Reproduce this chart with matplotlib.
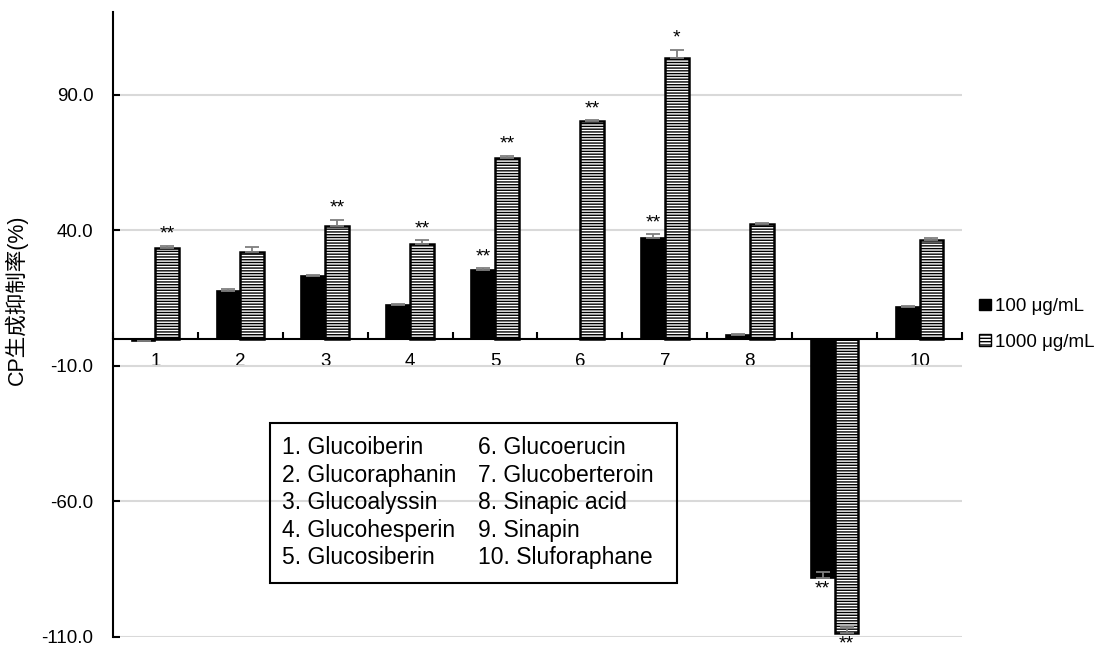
import numpy as np
import matplotlib
matplotlib.use("Agg")
import matplotlib.pyplot as plt
from matplotlib.patches import Rectangle, Patch

plt.rcParams['font.family'] = ['Liberation Sans', 'Noto Sans CJK SC', 'DejaVu Sans']
plt.rcParams['hatch.linewidth'] = 1.0

# data
categories = ['1', '2', '3', '4', '5', '6', '7', '8', '9', '10']
low_dose = [-0.8, 17.5, 23.3, 12.6, 25.3, 0.0, 37.1, 1.5, -88.3, 11.7]
low_err = [0.3, 0.9, 0.4, 0.3, 0.9, 0.0, 1.5, 0.3, 2.3, 0.5]
high_dose = [33.5, 32.0, 41.8, 34.9, 66.6, 80.5, 103.5, 42.4, -108.4, 36.3]
high_err = [0.9, 1.8, 2.2, 1.5, 1.0, 0.3, 3.2, 0.5, 2.0, 1.0]
low_marks = ['', '', '', '', '**', '', '**', '', '**', '']
high_marks = ['**', '', '**', '**', '**', '**', '*', '', '**', '']
series_names = ['100 μg/mL', '1000 μg/mL']
compounds = ['1. Glucoiberin', '2. Glucoraphanin', '3. Glucoalyssin', '4. Glucohesperin',
             '5. Glucosiberin', '6. Glucoerucin', '7. Glucoberteroin', '8. Sinapic acid',
             '9. Sinapin', '10. Sluforaphane']
y_ticks = [-110, -60, -10, 40, 90]

fig = plt.figure(figsize=(11.15, 6.49), dpi=100)
ax = fig.add_axes([0.1013, 0.0185, 0.7615, 0.963])

x = np.arange(len(categories))
w = 0.28

ax.bar(x - w / 2, low_dose, w, color='black', edgecolor='black', linewidth=1.2, zorder=3)
ax.bar(x + w / 2, high_dose, w, color='white', edgecolor='black', linewidth=1.8,
       hatch='------', zorder=3)

# plus-direction error bars like in Excel
ax.errorbar(x - w / 2, low_dose, yerr=[np.zeros(len(x)), low_err], fmt='none',
            ecolor='#7f7f7f', elinewidth=1.3, capsize=5, capthick=1.3, zorder=4)
ax.errorbar(x + w / 2, high_dose, yerr=[np.zeros(len(x)), high_err], fmt='none',
            ecolor='#7f7f7f', elinewidth=1.3, capsize=5, capthick=1.3, zorder=4)

# significance marks
for i in range(len(x)):
    for xpos, v, e, m in [(x[i] - w / 2, low_dose[i], low_err[i], low_marks[i]),
                          (x[i] + w / 2, high_dose[i], high_err[i], high_marks[i])]:
        if not m:
            continue
        if v >= 0:
            ax.annotate(m, (xpos, v + e), xytext=(0, 2), textcoords='offset points',
                        ha='center', va='bottom', fontsize=14)
        else:
            ax.annotate(m, (xpos, v), xytext=(0, -2), textcoords='offset points',
                        ha='center', va='top', fontsize=14, annotation_clip=False)

ax.set_xlim(-0.5, len(x) - 0.5)
ax.set_ylim(-110, 120.6)
ax.set_yticks(y_ticks)
ax.set_yticklabels([f'{t:.1f}' for t in y_ticks], fontsize=13.5)
ax.yaxis.grid(True, color='#d9d9d9', linewidth=1.5, zorder=0)
ax.set_axisbelow(True)

ax.spines['top'].set_visible(False)
ax.spines['right'].set_visible(False)
ax.spines['bottom'].set_position(('data', 0))
ax.spines['bottom'].set_linewidth(1.5)
ax.spines['left'].set_linewidth(1.5)
ax.spines['bottom'].set_zorder(5)

ax.tick_params(axis='y', direction='in', length=5, width=1.5, pad=14)
ax.set_xticks(np.arange(len(x) + 1) - 0.5)
ax.set_xticklabels([])
ax.tick_params(axis='x', which='major', direction='in', length=5, width=1.5)
ax.set_xticks(x, minor=True)
ax.set_xticklabels(categories, minor=True, fontsize=13.5)
ax.tick_params(axis='x', which='minor', length=0, pad=10)

ax.set_ylabel('CP生成抑制率(%)', fontsize=15.5)
ax.yaxis.set_label_coords(-0.1, 0.54)

# compound key box
ax.add_patch(Rectangle((0.185, 0.0864), 0.479, 0.256, transform=ax.transAxes,
                       fill=False, edgecolor='black', linewidth=1.5, zorder=6))
for k, name in enumerate(compounds):
    col = k // 5
    row = k % 5
    ax.text(0.199 + col * 0.231, 0.3024 - row * 0.044, name, transform=ax.transAxes,
            fontsize=16.5, va='center', ha='left', zorder=6)

handles = [Patch(facecolor='black', edgecolor='black'),
           Patch(facecolor='white', edgecolor='black', hatch='-----')]
fig.legend(handles, series_names, loc='center left', bbox_to_anchor=(0.875, 0.5),
           frameon=False, fontsize=13.5, handlelength=0.6, handleheight=0.6,
           handletextpad=0.25, labelspacing=1.0, borderaxespad=0, borderpad=0.2)

fig.savefig('out.png', dpi=100)
